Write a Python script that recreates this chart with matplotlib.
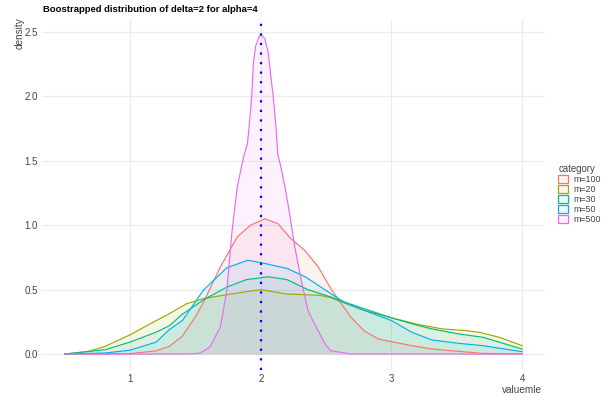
import matplotlib.pyplot as plt
from matplotlib.colors import to_rgb
from matplotlib.patches import Patch

plt.rcParams['font.family'] = ['Liberation Sans', 'DejaVu Sans']

# densities, one (x, y) list per category
categories = ['m=100', 'm=20', 'm=30', 'm=50', 'm=500']
colors = ['#F8766D', '#A3A500', '#00BF7D', '#00B0F6', '#E76BF3']

x_m100 = [0.5, 1.0, 1.2, 1.3, 1.4, 1.5, 1.56, 1.69, 1.82, 1.92, 2.03, 2.13, 2.23, 2.335,
          2.44, 2.536, 2.61, 2.69, 2.79, 2.9, 3.0, 3.155, 3.31, 3.515, 3.7, 4.0]
y_m100 = [0.0, 0.003, 0.025, 0.06, 0.14, 0.29, 0.40, 0.676, 0.91, 1.0, 1.05, 1.013, 0.896, 0.806,
          0.676, 0.508, 0.40, 0.286, 0.18, 0.117, 0.096, 0.065, 0.039, 0.021, 0.005, 0.0]

x_m20 = [0.5, 0.68, 0.81, 1.0, 1.2, 1.3, 1.43, 1.56, 1.77, 2.0, 2.2, 2.45, 2.536, 2.64,
         2.79, 3.0, 3.206, 3.39, 3.567, 3.67, 3.825, 4.0]
y_m20 = [0.0, 0.02, 0.06, 0.15, 0.26, 0.313, 0.39, 0.43, 0.466, 0.5, 0.466, 0.456, 0.4375, 0.396,
         0.339, 0.281, 0.229, 0.195, 0.182, 0.169, 0.13, 0.065]

x_m30 = [0.5, 0.81, 1.0, 1.2, 1.3, 1.4, 1.56, 1.74, 1.89, 2.06, 2.2, 2.36, 2.536, 2.64,
         2.79, 3.0, 3.206, 3.31, 3.515, 3.7, 4.0]
y_m30 = [0.0, 0.034, 0.093, 0.17, 0.22, 0.31, 0.42, 0.52, 0.578, 0.60, 0.578, 0.50, 0.443, 0.404,
         0.352, 0.281, 0.221, 0.195, 0.156, 0.13, 0.039]

x_m50 = [0.5, 0.81, 1.0, 1.2, 1.3, 1.4, 1.56, 1.74, 1.9, 2.0, 2.2, 2.34, 2.536, 2.64,
         2.79, 3.0, 3.155, 3.31, 3.515, 3.7, 4.0]
y_m50 = [0.0, 0.008, 0.03, 0.093, 0.19, 0.26, 0.495, 0.67, 0.728, 0.71, 0.665, 0.6, 0.469, 0.40,
         0.339, 0.26, 0.169, 0.109, 0.083, 0.065, 0.018]

x_m500 = [0.5, 1.4, 1.5, 1.536, 1.61, 1.69, 1.74, 1.78, 1.82, 1.845, 1.87, 1.897, 1.915, 1.93,
          1.943, 1.96, 1.985, 2.0, 2.03, 2.057, 2.077, 2.095, 2.116, 2.13, 2.16, 2.19, 2.22,
          2.26, 2.31, 2.36, 2.41, 2.49, 2.536, 2.61, 2.69, 4.0]
y_m500 = [0.0, 0.0, 0.003, 0.008, 0.054, 0.21, 0.495, 0.96, 1.3, 1.42, 1.54, 1.63, 1.815, 2.0,
          2.26, 2.39, 2.46, 2.48, 2.45, 2.34, 2.15, 2.0, 1.76, 1.555, 1.42, 1.27, 1.09,
          0.83, 0.57, 0.34, 0.236, 0.08, 0.026, 0.013, 0.0, 0.0]

series_x = [x_m100, x_m20, x_m30, x_m50, x_m500]
series_y = [y_m100, y_m20, y_m30, y_m50, y_m500]

x_ticks = [1, 2, 3, 4]
y_ticks = [0.0, 0.5, 1.0, 1.5, 2.0, 2.5]
delta = 2

fig = plt.figure(figsize=(6.13, 4.0), dpi=100)
ax = fig.add_axes([42 / 613, 1 - 370 / 400, (545 - 42) / 613, 350 / 400])

for xs, ys, c in zip(series_x, series_y, colors):
    ax.fill_between(xs, 0, ys, color=c, alpha=0.09, linewidth=0)
    ax.plot(xs, ys, color=c, linewidth=0.85)

ax.axvline(delta, color='blue', linewidth=1.6, linestyle=(0, (1, 3.3)), dash_capstyle='butt')

ax.set_xlim(0.325, 4.175)
ax.set_ylim(-0.124, 2.594)
ax.set_xticks(x_ticks)
ax.set_xticklabels([str(t) for t in x_ticks])
ax.set_yticks(y_ticks)
ax.set_yticklabels(['%.1f' % t for t in y_ticks])
ax.tick_params(length=0, labelsize=7, colors='#444444', pad=3)
ax.grid(True, color='#EBEBEB', linewidth=0.8)
ax.set_axisbelow(True)
for s in ax.spines.values():
    s.set_visible(False)

fig.text(43 / 613, 1 - 10 / 400, 'Boostrapped distribution of delta=2 for alpha=4',
         fontsize=6.8, fontweight='bold', va='center', ha='left')
fig.text(20 / 613, 1 - 17 / 400, 'density', rotation=90, fontsize=7.2,
         color='#444444', va='top', ha='center')
fig.text(542 / 613, 1 - 390 / 400, 'valuemle', fontsize=7.2,
         color='#444444', va='center', ha='right')

handles = [Patch(facecolor=(*to_rgb(c), 0.08), edgecolor=c, linewidth=0.9) for c in colors]
leg = fig.legend(handles, categories, title='category', loc='upper left',
                 bbox_to_anchor=(554 / 613, 1 - 160 / 400), frameon=False,
                 fontsize=6.4, title_fontsize=6.9, borderpad=0, handlelength=1.05,
                 handleheight=1.05, handletextpad=0.6, labelspacing=0.08,
                 alignment='left')
for t in leg.get_texts():
    t.set_color('#444444')
leg.get_title().set_color('#444444')

fig.savefig('out.png', dpi=100)
